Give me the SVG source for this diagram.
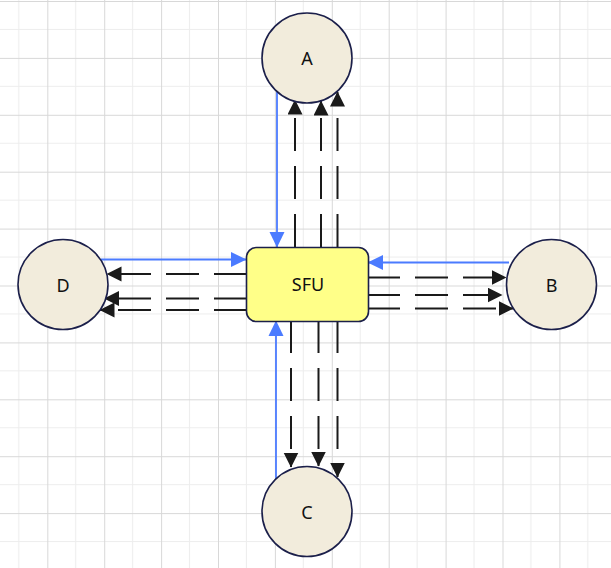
<svg xmlns="http://www.w3.org/2000/svg" width="611" height="568" viewBox="0 0 611 568">
  <style>
    .circle { fill: #f2ecdc; stroke: #1b1f4a; stroke-width: 1.6; }
    .box { fill: #ffff88; stroke: #1b1f4a; stroke-width: 1.6; }
    .label { font-family: "Noto Sans", "Open Sans", sans-serif; font-size: 18px; fill: #111111; text-anchor: middle; dominant-baseline: central; }
    .blue { stroke: #4b7bff; stroke-width: 1.8; fill: none; marker-end: url(#blueArrow); }
    .dash { stroke: #1a1a1a; stroke-width: 2; fill: none; stroke-dasharray: 33 15; marker-end: url(#blackArrow); }
  </style>
  <defs>
    <pattern id="grid" patternUnits="userSpaceOnUse" x="-9.6" y="1" width="56.9" height="56.9">
      <rect width="56.9" height="56.9" fill="#ffffff"/>
      <path d="M28.45 0 V56.9 M0 28.45 H56.9" stroke="#ededed" stroke-width="1" fill="none"/>
      <path d="M0.5 0 V56.9 M0 0.5 H56.9" stroke="#d8d8d8" stroke-width="1" fill="none"/>
    </pattern>
    <marker id="blueArrow" markerUnits="userSpaceOnUse" markerWidth="16" markerHeight="16" refX="15" refY="8" orient="auto">
      <path d="M0,0.5 L15.5,8 L0,15.5 Z" fill="#4b7bff"/>
    </marker>
    <marker id="blackArrow" markerUnits="userSpaceOnUse" markerWidth="16" markerHeight="16" refX="14.5" refY="7.5" orient="auto">
      <path d="M0,0 L15,7.5 L0,15 Z" fill="#1a1a1a"/>
    </marker>
  </defs>
  <rect x="0" y="0" width="611" height="568" fill="url(#grid)"/>

  <g id="connectors">
    <line class="blue" x1="277" y1="92" x2="277" y2="247"/>
    <line class="blue" x1="101" y1="259.5" x2="246" y2="259.5"/>
    <line class="blue" x1="509" y1="262.5" x2="368" y2="262.5"/>
    <line class="blue" x1="276" y1="479" x2="276" y2="321"/>
    <line class="dash" x1="295" y1="247" x2="295" y2="100"/>
    <line class="dash" x1="321" y1="247" x2="321" y2="101"/>
    <line class="dash" x1="337.5" y1="247" x2="337.5" y2="92"/>
    <line class="dash" x1="247" y1="274" x2="107" y2="274"/>
    <line class="dash" x1="247" y1="298.5" x2="104.5" y2="298.5"/>
    <line class="dash" x1="247" y1="310" x2="100" y2="310"/>
    <line class="dash" x1="367" y1="277.5" x2="506" y2="277.5"/>
    <line class="dash" x1="367" y1="295" x2="502" y2="295"/>
    <line class="dash" x1="367" y1="308.5" x2="513" y2="308.5"/>
    <line class="dash" x1="291" y1="320" x2="291" y2="467"/>
    <line class="dash" x1="318.5" y1="320" x2="318.5" y2="466"/>
    <line class="dash" x1="337.5" y1="320" x2="337.5" y2="477"/>
  </g>

  <g id="node-SFU">
    <rect class="box" x="246.5" y="247.5" width="122" height="74" rx="10" ry="10"/>
    <text class="label" x="308" y="284">SFU</text>
  </g>
  <g id="node-A">
    <circle class="circle" cx="307" cy="58" r="45"/>
    <text class="label" x="307" y="58">A</text>
  </g>
  <g id="node-B">
    <circle class="circle" cx="551.5" cy="284.5" r="45"/>
    <text class="label" x="551.5" y="284.5">B</text>
  </g>
  <g id="node-C">
    <circle class="circle" cx="307" cy="511.5" r="45"/>
    <text class="label" x="307" y="511.5">C</text>
  </g>
  <g id="node-D">
    <circle class="circle" cx="63" cy="284.5" r="45"/>
    <text class="label" x="63" y="284.5">D</text>
  </g>
</svg>
